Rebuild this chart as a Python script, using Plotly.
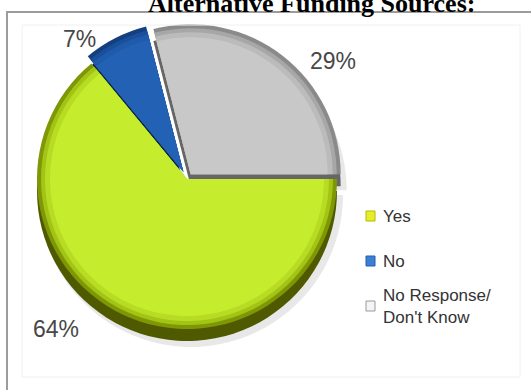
import plotly.graph_objects as go

# Survey answers and their shares (percent)
categories = ["Yes", "No", "No Response/ Don't Know"]
values = [64, 7, 29]
legend_labels = ["Yes", "No", "No Response/<br>Don't Know"]

W, H = 531, 390

# pie geometry in pixels
CX, CY, R = 187, 179, 150
DEPTH = 12                 # visible thickness of the slab
PULL_PX = [0, 8, 6]        # how far each slice is pulled out

# shading rings, outermost first: (radius, [yes, no, other])
rings = [
    (R,      ["#7f9705", "#143f7e", "#8a8a8a"]),
    (R - 4,  ["#a2c414", "#1a4f9c", "#a7a7a7"]),
    (R - 8,  ["#b8dc24", "#1f5aab", "#bbbbbb"]),
    (R - 13, ["#c6ec2e", "#2261b3", "#c8c8c8"]),
]
side_colors = ["#4f5a00", "#0a2850", "#666666"]
legend_colors = ["#e4ef2a", "#3a7fd8", "#f4f4f4"]
legend_lines = ["#b8b800", "#2a5fa8", "#9a9a9a"]


def pie_layer(cx, cy, r, colors):
    half = r + max(PULL_PX)
    return go.Pie(
        labels=categories,
        values=values,
        sort=False,
        direction="clockwise",
        rotation=90,
        pull=[d / r for d in PULL_PX],
        marker=dict(colors=colors, line=dict(width=0)),
        textinfo="none",
        hoverinfo="skip",
        showlegend=False,
        domain=dict(
            x=[(cx - half) / W, (cx + half) / W],
            y=[1 - (cy + half) / H, 1 - (cy - half) / H],
        ),
    )


fig = go.Figure()

# soft drop shadow, slab side, then the shaded top surface
fig.add_trace(pie_layer(CX + 4, CY + DEPTH + 4, R + 2, ["rgba(0,0,0,0.09)"] * 3))
fig.add_trace(pie_layer(CX, CY + DEPTH, R, side_colors))
for r, cols in rings:
    fig.add_trace(pie_layer(CX, CY, r, cols))

shapes = [
    # outer frame
    dict(type="rect", xref="paper", yref="paper",
         x0=7 / W, x1=1.05, y0=-0.05, y1=1 - 12 / H,
         line=dict(color="#9c9c9c", width=2), fillcolor="rgba(0,0,0,0)"),
    # faint inner plot border
    dict(type="rect", xref="paper", yref="paper",
         x0=22 / W, x1=520 / W, y0=1 - 377 / H, y1=1 - 25 / H,
         line=dict(color="#f0f0f0", width=1), fillcolor="rgba(0,0,0,0)"),
]

annotations = [
    dict(text="<b>Alternative Funding Sources:</b>", x=311 / W, y=1 - 4 / H,
         xref="paper", yref="paper", xanchor="center", yanchor="middle",
         showarrow=False,
         font=dict(family="Liberation Serif, Times New Roman, serif", size=26, color="#000000")),
]

# percentage labels
pct_pos = [(56, 329), (79, 39), (333, 61)]
for v, (px, py) in zip(values, pct_pos):
    annotations.append(dict(
        text=f"{v}%", x=px / W, y=1 - py / H, xref="paper", yref="paper",
        xanchor="center", yanchor="middle", showarrow=False,
        font=dict(family="Arial, Liberation Sans, sans-serif", size=23, color="#474747")))

# legend: swatch + label
legend_y = [216, 261, 306]
for lab, col, lc, ly in zip(legend_labels, legend_colors, legend_lines, legend_y):
    shapes.append(dict(type="rect", xref="paper", yref="paper",
                       x0=366 / W, x1=375 / W, y0=1 - (ly + 5) / H, y1=1 - (ly - 5) / H,
                       line=dict(color=lc, width=1), fillcolor=col))
    annotations.append(dict(
        text=lab, x=381 / W, y=1 - ly / H, xref="paper", yref="paper",
        xanchor="left", yanchor="middle", align="left", showarrow=False,
        font=dict(family="Arial, Liberation Sans, sans-serif", size=17, color="#333333")))

fig.update_layout(
    width=W, height=H, autosize=False,
    margin=dict(l=0, r=0, t=0, b=0),
    paper_bgcolor="#ffffff", plot_bgcolor="#ffffff",
    shapes=shapes, annotations=annotations,
    showlegend=False,
)

fig.write_html("out.html")
